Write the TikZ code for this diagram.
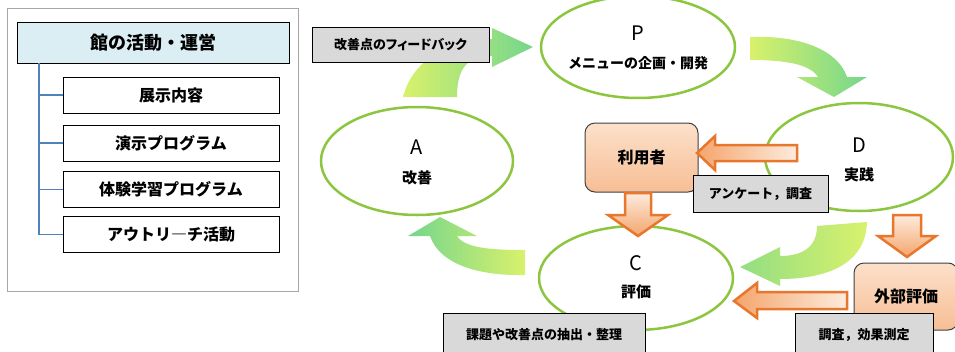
\documentclass[tikz,border=0pt]{standalone}
\usepackage{fontspec}
\setmainfont{Noto Sans CJK JP}
\newfontfamily\paltfont{Noto Sans CJK JP}[RawFeature=+palt]
\usepackage{tikz}
\usetikzlibrary{shapes.geometric}

\definecolor{panelgray}{HTML}{A6A6A6}
\definecolor{headblue}{HTML}{DAEEF3}
\definecolor{treeblue}{HTML}{4F81BD}
\definecolor{cycgreen}{HTML}{8CC63F}
\definecolor{gyellow}{HTML}{D9F16C}
\definecolor{ggreen}{HTML}{74D68C}
\definecolor{labgray}{HTML}{D9D9D9}
\definecolor{peachlt}{HTML}{FCE0CA}
\definecolor{peachdk}{HTML}{F7BE95}
\definecolor{arrowor}{HTML}{E8772E}
\definecolor{arrowlt}{HTML}{FDEBDD}
\definecolor{arrowmd}{HTML}{F4A56C}

\begin{document}
\begin{tikzpicture}[x=1pt,y=-1pt,
  headbox/.style={draw, line width=1pt, fill=headblue, minimum width=272pt, minimum height=41pt, inner sep=0pt, font=\fontsize{18}{18}\selectfont\bfseries},
  itembox/.style={draw, line width=1pt, fill=white, minimum width=216pt, minimum height=36pt, inner sep=0pt, font=\fontsize{16}{16}\selectfont\bfseries},
  tree/.style={draw=treeblue, line width=1.2pt},
  cyc/.style={ellipse, draw=cycgreen, line width=2.5pt, fill=white, inner sep=0pt},
  letter/.style={font=\fontsize{20}{20}\selectfont},
  cyctext/.style={font=\fontsize{15}{15}\selectfont\bfseries},
  grayl/.style={draw, line width=0.8pt, fill=labgray, inner sep=0pt, font=\fontsize{13}{13}\selectfont\bfseries},
  obox/.style={draw=black!75, line width=1pt, rounded corners=10pt, top color=peachlt, bottom color=peachdk, inner sep=0pt, font=\fontsize{16}{16}\selectfont\bfseries},
  oarrow/.style={draw=arrowor, line width=2.5pt, line join=miter}]
\useasboundingbox (0,0) rectangle (955,351);

% left panel
\draw[draw=panelgray, line width=1pt] (7,8) rectangle (298,291);
\node[headbox] (main) at (153,42.5) {館の活動・運営};
\node[itembox] (i1) at (171,95) {展示内容};
\node[itembox] (i2) at (171,143) {演示プログラム};
\node[itembox] (i3) at (171,189.5) {体験学習プログラム};
\node[itembox] (i4) at (171,234.5) {アウトリ―チ活動};
\coordinate (trunk) at (39,63);
\draw[tree] (trunk) |- (i4.west);
\foreach \i in {1,2,3}
  \draw[tree] (trunk |- i\i.west) -- (i\i.west);

% green cycle arrows
\shade[left color=gyellow, right color=ggreen] (403,97) .. controls (412,62) and (445,40) .. (492,39)
  -- (492,28) -- (533,47) -- (492,67) -- (492,56) .. controls (470,56) and (457,65) .. (457,97) -- cycle;
\shade[left color=gyellow, right color=ggreen] (750,37) .. controls (800,35) and (838,50) .. (847,77)
  -- (867,77) -- (834,97) -- (797,77) -- (818,77) .. controls (810,64) and (785,60) .. (750,60) -- cycle;
\shade[left color=ggreen!70!gyellow, right color=gyellow] (817,226) -- (867,222) .. controls (866,262) and (830,279) .. (780,279)
  -- (780,286) -- (740,267) -- (780,247) -- (780,256) .. controls (805,256) and (817,245) .. (817,226) -- cycle;
\shade[left color=ggreen, right color=gyellow] (525,250) -- (525,275) .. controls (480,276) and (440,265) .. (430,236)
  -- (408,236) -- (440,217) -- (477,236) -- (457,236) .. controls (465,248) and (490,250) .. (525,250) -- cycle;

% PDCA
\node[cyc, minimum width=194pt, minimum height=102pt] (P) at (638,47) {};
\node[letter] (Pl) at (638,33) {P};
\node[font=\fontsize{14}{14}\selectfont\bfseries] (Pt) at (638,63) {メニューの企画・開発};
\node[cyc, minimum width=192pt, minimum height=108pt] (A) at (417,161) {};
\node[letter] (Al) at (417,147) {A};
\node[cyctext] (At) at (417,178) {改善};
\node[cyc, minimum width=188pt, minimum height=108pt] (D) at (859,157) {};
\node[letter] (Dl) at (859,145) {D};
\node[cyctext] (Dt) at (859,175) {実践};
\node[cyc, minimum width=194pt, minimum height=104pt] (C) at (636,278) {};
\node[letter] (Cl) at (636,263) {C};
\node[cyctext] (Ct) at (636,292) {評価};

% users / external
\node[obox, minimum width=113pt, minimum height=69pt] (user) at (641.5,157.5) {利用者};
\node[obox, minimum width=104pt, minimum height=67pt] (ext) at (906,296.5) {外部評価};

% orange arrows
\shade[oarrow, left color=arrowmd, right color=arrowlt] (797,145) -- (715,145) -- (715,136) -- (697,153)
  -- (715,170) -- (715,161) -- (797,161) -- cycle;
\shade[oarrow, top color=arrowlt, bottom color=arrowmd] (625,193) -- (651,193) -- (651,215) -- (668,215)
  -- (638,236) -- (608,215) -- (625,215) -- cycle;
\shade[oarrow, top color=arrowlt, bottom color=arrowmd] (893,215) -- (921,215) -- (921,236) -- (936,236)
  -- (907,257) -- (878,236) -- (893,236) -- cycle;
\shade[oarrow, left color=arrowmd, right color=arrowlt] (847,292) -- (757,292) -- (757,283) -- (734,301)
  -- (757,318) -- (757,309) -- (847,309) -- cycle;

% labels
\node[grayl, minimum width=177pt, minimum height=35pt] (fb) at (400.5,44.5) {\paltfont 改善点のフィードバック};
\node[grayl, minimum width=135pt, minimum height=37pt] (enq) at (760.5,193.5) {アンケート，調査};
\node[grayl, minimum width=202pt, minimum height=44pt] (kad) at (544,335) {課題や改善点の抽出・整理};
\node[grayl, minimum width=138pt, minimum height=44pt] (chosa) at (864,335) {調査，効果測定};
\end{tikzpicture}
\end{document}
